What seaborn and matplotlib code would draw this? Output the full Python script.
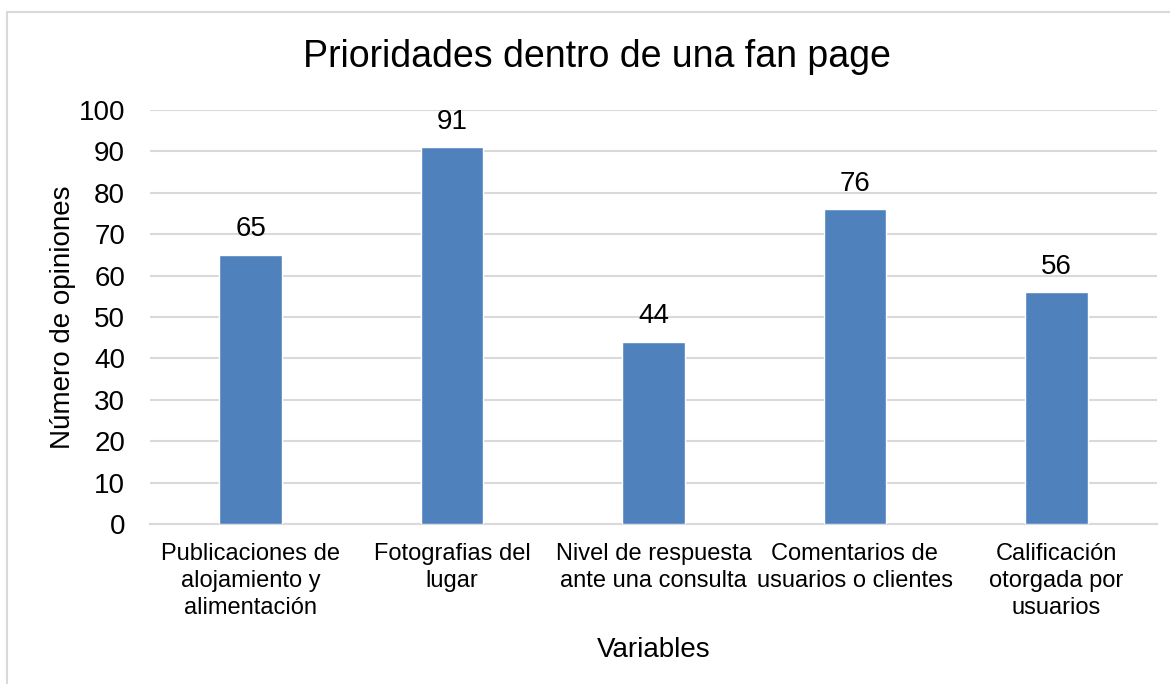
import matplotlib
matplotlib.use("Agg")
import matplotlib.pyplot as plt
import seaborn as sns
import pandas as pd
from matplotlib.patches import Rectangle

categorias = [
    "Publicaciones de\nalojamiento y\nalimentación",
    "Fotografias del\nlugar",
    "Nivel de respuesta\nante una consulta",
    "Comentarios de\nusuarios o clientes",
    "Calificación\notorgada por\nusuarios",
]
opiniones = [65, 91, 44, 76, 56]
yticks = [0, 10, 20, 30, 40, 50, 60, 70, 80, 90, 100]

sns.set_theme(style="white")
plt.rcParams["font.family"] = ["Liberation Sans", "DejaVu Sans"]

W, H = 1170, 684
fig = plt.figure(figsize=(W / 100, H / 100), dpi=100)
ax = fig.add_axes([150 / W, 1 - 524 / H, (1157 - 150) / W, (524 - 110) / H])

df = pd.DataFrame({"Variables": categorias, "Opiniones": opiniones})
sns.barplot(data=df, x="Variables", y="Opiniones", color="#4F81BD",
            saturation=1, width=0.31, ax=ax, zorder=3)

ax.set_ylim(0, 100)
ax.set_yticks(yticks)
ax.set_xlim(-0.5, len(categorias) - 0.5)
ax.yaxis.grid(True, color="#d9d9d9", linewidth=1.5, zorder=0)
ax.xaxis.grid(False)
for s in ["left", "right", "top"]:
    ax.spines[s].set_visible(False)
ax.spines["bottom"].set_color("#d9d9d9")
ax.spines["bottom"].set_linewidth(1.5)
ax.tick_params(axis="y", labelsize=20, length=0, pad=18, colors="black")
ax.tick_params(axis="x", labelsize=17, length=0, pad=14, colors="black")
for lbl in ax.get_xticklabels():
    lbl.set_linespacing(1.27)

for i, v in enumerate(opiniones):
    ax.annotate(str(v), (i, v), xytext=(0, 9), textcoords="offset points",
                ha="center", va="bottom", fontsize=20, color="black")

ax.set_xlabel("Variables", fontsize=20, labelpad=13, color="black")
ax.set_ylabel("Número de opiniones", fontsize=20, labelpad=2, color="black")

fig.text(597 / W, 1 - 57 / H, "Prioridades dentro de una fan page",
         ha="center", va="center", fontsize=27, color="black")

fig.patches.append(Rectangle((7 / W, -0.05), 1.1, 1 - 12 / H + 0.05,
                             transform=fig.transFigure, fill=False,
                             edgecolor="#d9d9d9", linewidth=1.5))

fig.savefig("out.png", dpi=100, facecolor="white")
